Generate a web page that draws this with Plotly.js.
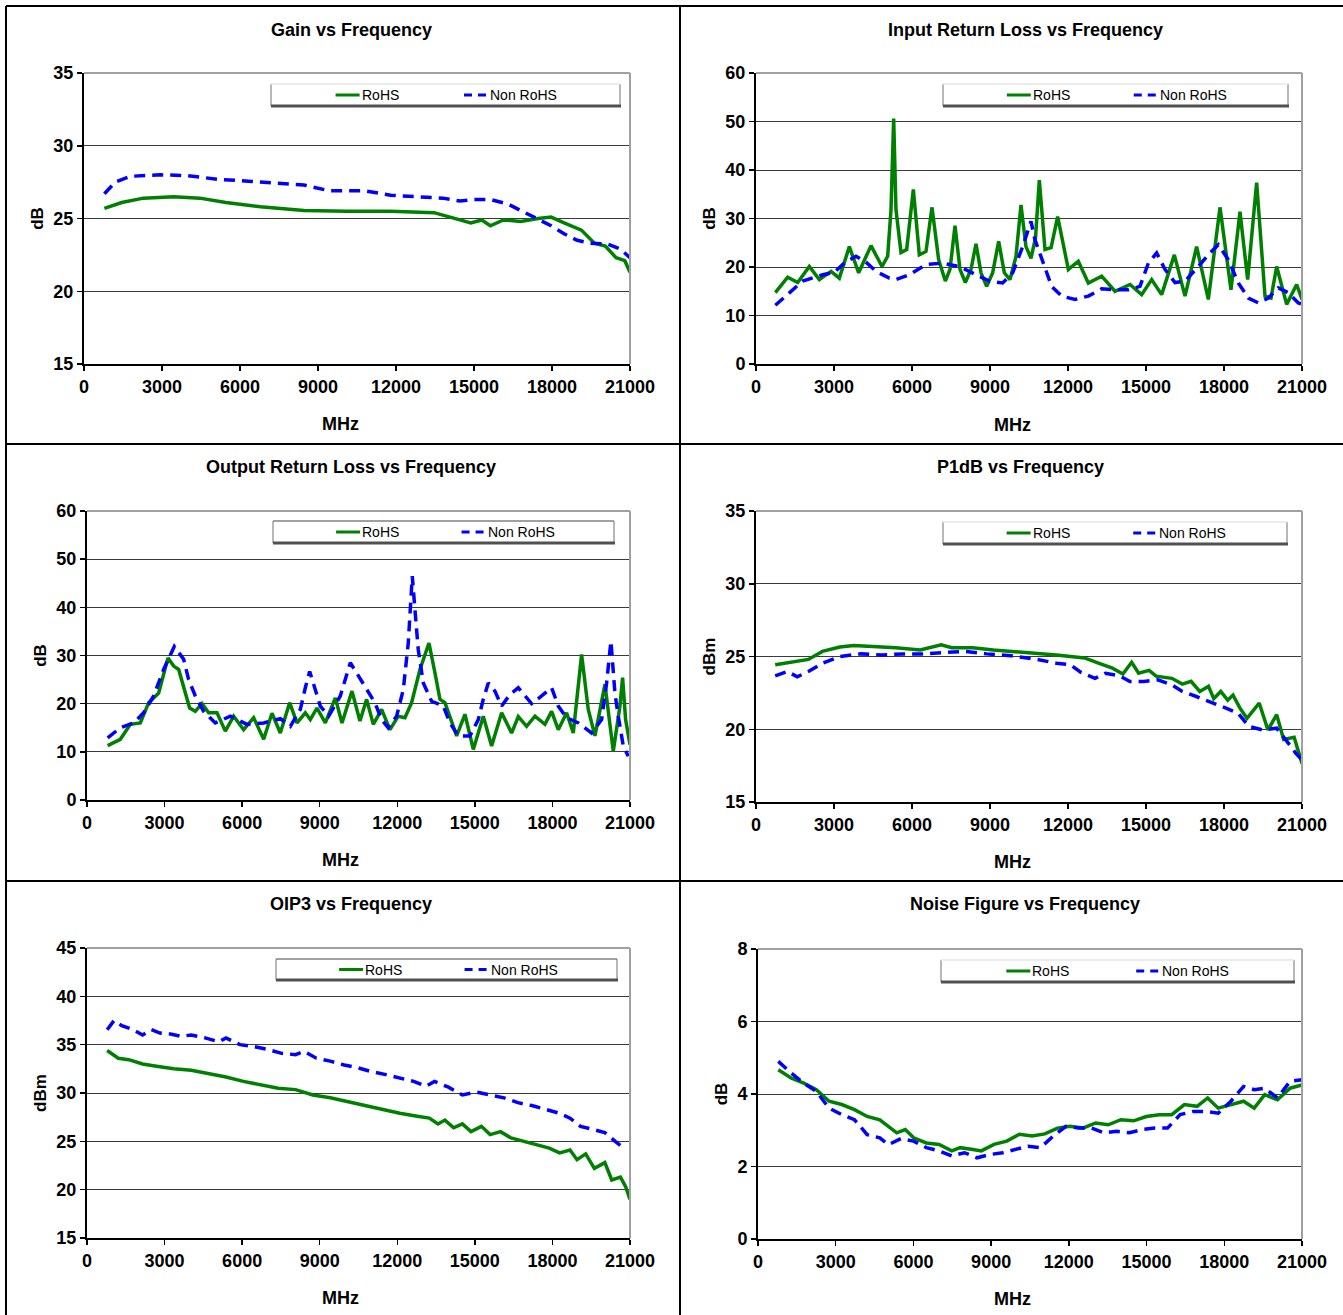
<!DOCTYPE html>
<html><head><meta charset="utf-8">
<script src="https://cdn.plot.ly/plotly-3.0.1.min.js"></script>
<style>html,body{margin:0;padding:0;background:#fff}#chart{width:1343px;height:1315px}</style>
</head><body><div id="chart"></div>
<script>
// ---------------- DATA ----------------
const seriesNames = ['RoHS', 'Non RoHS'];
const xTickLabels = ['0','3000','6000','9000','12000','15000','18000','21000'];
const xTitle = 'MHz';

// Gain vs Frequency (dB)
const gainFreqRoHS = [784,1451,2285,3453,4454,5455,6789,8457,10125,11793,13461,14295,14879,15296,15630,16130,16797,17464,17965,18465,19132,19633,20050,20467,20801,21000];
const gainRoHS     = [25.7,26.1,26.4,26.5,26.4,26.1,25.8,25.55,25.5,25.5,25.4,25.0,24.7,24.9,24.5,24.9,24.8,25.0,25.1,24.7,24.2,23.3,23.1,22.3,22.1,21.3];
const gainFreqNon  = [784,1201,1785,2952,3953,5121,6455,7456,8457,9458,10792,11793,12794,13795,14462,14962,15630,16297,16797,17298,17965,18465,18966,19466,20133,20634,21000];
const gainNon      = [26.7,27.5,27.9,28.0,27.95,27.7,27.55,27.45,27.3,26.9,26.9,26.6,26.5,26.4,26.2,26.3,26.3,26.0,25.55,25.1,24.5,23.95,23.5,23.3,23.25,22.9,22.3];

// Input Return Loss vs Frequency (dB)
const irlFreqRoHS = [744,1218,1603,2051,2436,2885,3205,3590,3949,4423,4846,5064,5192,5295,5384,5577,5795,6051,6282,6538,6769,7025,7282,7461,7654,7846,8051,8269,8461,8654,8872,9103,9333,9551,9769,10000,10192,10384,10577,10750,10897,11115,11350,11602,12013,12397,12782,13295,13808,14384,14833,15218,15602,16090,16500,16948,17397,17846,18269,18615,18910,19256,19577,19808,20026,20410,20795,21000];
const irlRoHS     = [14.7,17.9,16.8,20.1,17.4,19.1,17.7,24.2,18.8,24.4,20.1,22.2,31.8,50.6,31.8,23.0,23.6,36.0,22.5,23.2,32.3,21.5,17.1,19.5,28.5,19.5,16.8,19.5,24.8,18.8,16.0,18.8,25.3,18.8,17.4,22.2,32.8,24.2,21.8,26.0,37.9,23.6,24.0,30.4,19.5,21.2,16.7,18.1,15.0,16.4,14.3,17.4,14.3,22.5,14.0,24.2,13.3,32.3,15.3,31.4,17.4,37.4,14.0,13.6,20.1,12.3,16.4,13.3];
const irlFreqNon  = [744,1282,1795,2564,3013,3397,3846,4231,4615,5128,5384,5897,6538,7179,7820,8461,8974,9487,9871,10256,10577,10730,11051,11372,11756,12269,12782,13295,13808,14320,14769,15090,15410,15730,16115,16500,17013,17461,17782,18167,18551,18936,19320,19705,20090,20474,20859,21000];
const irlNon      = [12.1,14.7,17.1,18.4,18.9,20.8,22.2,21.0,19.1,17.7,17.4,18.4,20.5,20.8,20.1,18.4,17.1,16.7,18.8,24.2,29.4,25.6,20.8,16.0,14.0,13.3,14.0,15.5,15.3,15.3,16.0,20.8,22.9,19.5,16.8,17.1,20.1,22.9,24.6,21.5,16.7,13.6,12.6,13.6,15.7,14.7,12.6,12.3];

// Output Return Loss vs Frequency (dB)
const orlFreqRoHS = [799,1289,1676,2062,2385,2771,3132,3351,3545,3738,3970,4189,4447,4705,5027,5349,5672,6058,6445,6832,7154,7476,7837,8121,8443,8636,8894,9216,9603,9861,10248,10556,10814,11072,11394,11716,12039,12296,12554,12877,13225,13457,13650,13843,14037,14295,14617,14939,15326,15648,16035,16421,16679,17001,17324,17710,17968,18226,18548,18806,19128,19386,19644,20031,20353,20611,20714,20830,21000];
const orlRoHS     = [11.3,12.6,15.7,16.0,20.2,22.2,29.5,27.8,27.1,23.6,19.1,18.4,20.0,18.1,18.1,14.3,17.4,14.6,17.1,12.6,18.0,13.9,20.2,16.0,18.1,16.7,19.1,16.0,21.2,16.0,22.6,16.4,20.9,15.7,18.8,14.6,17.4,17.1,20.2,27.1,32.6,26.4,20.9,20.2,17.4,13.3,17.8,10.5,17.4,11.2,18.1,13.9,17.3,15.3,17.4,15.7,18.4,14.6,18.1,13.9,30.2,18.8,13.3,24.0,10.1,19.5,25.4,16.7,11.5];
const orlFreqNon  = [799,1289,1805,2191,2578,2964,3377,3738,3931,4189,4511,4962,5543,6187,6832,7476,7863,8250,8443,8611,8830,9023,9345,9796,10183,10505,10814,11136,11394,11652,11974,12232,12425,12580,12683,12812,13006,13328,13779,14037,14359,14810,15132,15326,15519,15777,16035,16357,16679,16937,17195,17582,17968,18226,18548,19000,19515,19902,20095,20263,20353,20417,20546,20740,20933];
const orlNon      = [12.9,15.0,16.0,18.1,21.6,27.1,31.9,29.2,25.0,21.6,18.4,16.0,17.4,15.7,16.0,16.9,15.3,18.8,23.3,26.7,22.9,19.5,17.4,21.6,28.5,25.7,22.9,20.2,16.7,15.0,17.4,22.9,32.6,46.5,39.5,31.2,24.3,20.5,19.5,16.0,13.3,13.3,16.7,20.9,24.3,22.6,19.5,21.9,23.3,21.6,20.0,21.6,23.3,19.5,17.1,16.0,13.9,16.7,24.3,33.0,27.1,22.2,17.4,11.2,9.1];

// P1dB vs Frequency (dBm)
const p1FreqRoHS = [739,1344,2016,2554,3226,3763,4570,5376,6317,7123,7526,8333,9139,9946,10752,11558,12096,12634,13171,13709,14112,14448,14717,15120,15389,15994,16397,16733,17069,17405,17606,17875,18144,18346,18614,18883,19354,19690,20026,20294,20698,21000];
const p1RoHS     = [24.43,24.6,24.8,25.35,25.65,25.75,25.7,25.6,25.45,25.8,25.6,25.6,25.45,25.35,25.2,25.1,25.0,24.9,24.55,24.2,23.8,24.6,23.85,24.05,23.65,23.5,23.1,23.3,22.6,22.95,22.1,22.6,22.0,22.35,21.45,20.75,21.8,19.95,21.0,19.3,19.45,17.65];
const p1FreqNon  = [739,1210,1586,2016,2554,3226,4032,4838,5645,6451,7258,8064,8870,9811,10752,11558,12096,12499,13037,13440,13978,14381,14918,15456,15994,16397,16934,17472,18010,18547,18950,19488,20026,20429,20765,21000];
const p1Non      = [23.67,23.97,23.6,23.97,24.54,25.0,25.18,25.1,25.18,25.18,25.28,25.34,25.18,25.05,24.82,24.54,24.43,23.9,23.5,23.85,23.67,23.28,23.28,23.4,23.05,22.6,22.25,21.9,21.5,21.1,20.2,19.95,20.07,19.15,18.35,17.9];

// OIP3 vs Frequency (dBm)
const oipFreqRoHS = [780,1210,1613,2150,2688,3360,4032,4704,5376,6048,6720,7392,8064,8736,9408,10080,10752,11424,12096,12768,13238,13574,13843,14179,14515,14851,15254,15590,15994,16397,16934,17472,17875,18278,18682,18950,19286,19622,20026,20294,20630,20832,21000];
const oipRoHS     = [34.4,33.6,33.45,33.0,32.76,32.5,32.35,32.0,31.65,31.2,30.86,30.5,30.35,29.8,29.5,29.1,28.7,28.35,27.9,27.6,27.4,26.8,27.2,26.4,26.8,26.0,26.55,25.7,26.0,25.35,25.0,24.65,24.3,23.8,24.1,23.1,23.7,22.2,22.8,21.0,21.3,20.3,19.0];
const oipFreqNon  = [780,1048,1344,1747,2150,2486,2822,3226,3629,4032,4570,5107,5376,5914,6451,6989,7526,8064,8400,8870,9408,9946,10483,11021,11558,12096,12634,13104,13440,13978,14515,15053,15590,16128,16666,17203,17741,18278,18682,19085,19622,20026,20429,20765];
const oipNon      = [36.55,37.5,36.97,36.6,36.0,36.55,36.2,36.1,35.86,36.0,35.7,35.3,35.7,35.0,34.8,34.5,34.1,33.97,34.3,33.6,33.3,32.9,32.6,32.2,31.9,31.55,31.2,30.7,31.2,30.6,29.8,30.1,29.8,29.5,29.0,28.7,28.3,27.9,27.4,26.55,26.2,25.9,25.0,24.3];

// Noise Figure vs Frequency (dB)
const nfFreqRoHS = [784,1274,1764,2253,2743,3233,3723,4213,4703,5029,5356,5683,6009,6499,6989,7479,7806,8295,8622,9112,9602,10091,10581,11071,11561,12051,12541,13031,13521,14010,14500,14990,15480,15970,16460,16949,17358,17766,18256,18746,19154,19562,20052,20542,21000];
const nfRoHS     = [4.67,4.44,4.3,4.12,3.8,3.71,3.57,3.38,3.29,3.11,2.93,3.02,2.79,2.65,2.61,2.43,2.52,2.47,2.43,2.61,2.7,2.89,2.84,2.9,3.06,3.11,3.06,3.2,3.15,3.29,3.26,3.38,3.43,3.43,3.71,3.66,3.89,3.61,3.71,3.8,3.61,3.98,3.84,4.16,4.25];
const nfFreqNon  = [784,1274,1764,2253,2743,3233,3723,4213,4703,5029,5519,6009,6499,6989,7479,7969,8459,8949,9439,9929,10418,10908,11398,11888,12378,12868,13358,13847,14337,14827,15317,15807,16297,16787,17276,17766,18256,18746,19154,19562,20052,20542,21000];
const nfNon      = [4.9,4.58,4.3,4.07,3.61,3.43,3.29,2.88,2.79,2.6,2.77,2.7,2.52,2.43,2.29,2.38,2.24,2.33,2.38,2.47,2.56,2.52,2.84,3.11,3.06,3.06,2.93,2.97,2.93,3.02,3.06,3.06,3.43,3.52,3.52,3.47,3.8,4.21,4.12,4.16,3.89,4.35,4.39];

// ---------------- LAYOUT ----------------
const W = 1343, H = 1315;
const px = x => x / W;
const py = y => 1 - y / H;
const GREEN = '#008000', BLUE = '#0000ff';
const FONT = 'Liberation Sans, Arial, sans-serif';

const panels = [
  {title:'Gain vs Frequency', tx:351, ty:30, mx:340, my:424, box:[84,630,73,364], yr:[15,35], dt:5, ylab:'dB', leg:[271,620,84,106], legTop:false,
   r:[gainFreqRoHS,gainRoHS], n:[gainFreqNon,gainNon]},
  {title:'Input Return Loss vs Frequency', tx:1025, ty:30, mx:1012, my:425, box:[756,1302,73,364], yr:[0,60], dt:10, ylab:'dB', leg:[943,1288,84,106], legTop:false,
   r:[irlFreqRoHS,irlRoHS], n:[irlFreqNon,irlNon]},
  {title:'Output Return Loss vs Frequency', tx:351, ty:467, mx:341, my:860, box:[87,630,511,800], yr:[0,60], dt:10, ylab:'dB', leg:[273,614,521,543], legTop:true,
   r:[orlFreqRoHS,orlRoHS], n:[orlFreqNon,orlNon]},
  {title:'P1dB vs Frequency', tx:1020, ty:467, mx:1012, my:862, box:[756,1302,511,802], yr:[15,35], dt:5, ylab:'dBm', leg:[943,1287,522,544], legTop:false,
   r:[p1FreqRoHS,p1RoHS], n:[p1FreqNon,p1Non]},
  {title:'OIP3 vs Frequency', tx:351, ty:904, mx:341, my:1298, box:[87,630,948,1238], yr:[15,45], dt:5, ylab:'dBm', leg:[276,617,959,980], legTop:true,
   r:[oipFreqRoHS,oipRoHS], n:[oipFreqNon,oipNon]},
  {title:'Noise Figure vs Frequency', tx:1025, ty:904, mx:1012, my:1299, box:[758,1302,949,1239], yr:[0,8], dt:2, ylab:'dB', leg:[941,1294,960,982], legTop:false,
   r:[nfFreqRoHS,nfRoHS], n:[nfFreqNon,nfNon]}
];

const data = [];
const layout = {
  width: W, height: H, margin:{l:0,r:0,t:0,b:0},
  paper_bgcolor:'#fff', plot_bgcolor:'#fff', showlegend:false,
  font:{family:FONT, color:'#000'},
  shapes:[], annotations:[]
};

const tickFont = {family:FONT, size:18, weight:'bold', color:'#000'};
const titleFont = {family:FONT, size:18, weight:'bold', color:'#000'};
const legFont = {family:FONT, size:14, color:'#000'};

panels.forEach((p, i) => {
  const k = i === 0 ? '' : String(i + 1);
  const xa = 'x' + k, ya = 'y' + k;
  data.push({type:'scatter', mode:'lines', name:seriesNames[0], x:p.r[0], y:p.r[1], xaxis:xa, yaxis:ya,
             line:{color:GREEN, width:3.5}});
  data.push({type:'scatter', mode:'lines', name:seriesNames[1], x:p.n[0], y:p.n[1], xaxis:xa, yaxis:ya,
             line:{color:BLUE, width:3.5, dash:'11px,7px'}});
  const [bx0,bx1,by0,by1] = p.box;
  layout['xaxis' + k] = {
    domain:[px(bx0), px(bx1)], anchor:ya, range:[0,21000], tickvals:xTickLabels.map(Number), ticktext:xTickLabels,
    showgrid:false, zeroline:false, showline:true, linecolor:'#000', linewidth:2,
    ticks:'outside', ticklen:5, tickwidth:1.5, tickcolor:'#000', tickfont:tickFont, fixedrange:true
  };
  layout['yaxis' + k] = {
    domain:[py(by1), py(by0)], anchor:xa, range:p.yr, dtick:p.dt, tick0:0,
    showgrid:true, gridcolor:'#3a3a3a', gridwidth:1, zeroline:false, showline:true, linecolor:'#000', linewidth:2,
    ticks:'outside', ticklen:5, tickwidth:1.5, tickcolor:'#000', tickfont:tickFont,
    title:{text:p.ylab, font:{family:FONT, size:17, weight:'bold', color:'#000'}, standoff:5}, fixedrange:true
  };
  // plot-area top and right border (grey)
  layout.shapes.push({type:'line', xref:xa+' domain', yref:ya+' domain', x0:0, x1:1, y0:1, y1:1, line:{color:'#a0a0a0', width:2}, layer:'above'});
  layout.shapes.push({type:'line', xref:xa+' domain', yref:ya+' domain', x0:1, x1:1, y0:0, y1:1, line:{color:'#a0a0a0', width:2}, layer:'above'});
  // subplot title and x-axis title
  layout.annotations.push({xref:'paper', yref:'paper', x:px(p.tx), y:py(p.ty), text:p.title, showarrow:false,
                           xanchor:'center', yanchor:'middle', font:titleFont});
  layout.annotations.push({xref:'paper', yref:'paper', x:px(p.mx), y:py(p.my), text:xTitle, showarrow:false,
                           xanchor:'center', yanchor:'middle', font:titleFont});
  // legend box
  const [lx0,lx1,ly0,ly1] = p.leg;
  layout.shapes.push({type:'rect', xref:'paper', yref:'paper', x0:px(lx0), x1:px(lx1), y0:py(ly1), y1:py(ly0),
                      line:{width:0}, fillcolor:'#fff', layer:'above'});
  layout.shapes.push({type:'line', xref:'paper', yref:'paper', x0:px(lx0), x1:px(lx0), y0:py(ly1), y1:py(ly0),
                      line:{color:'#a0a0a0', width:1.5}, layer:'above'});
  layout.shapes.push({type:'line', xref:'paper', yref:'paper', x0:px(lx1), x1:px(lx1), y0:py(ly1), y1:py(ly0),
                      line:{color:'#a0a0a0', width:1.5}, layer:'above'});
  layout.shapes.push({type:'line', xref:'paper', yref:'paper', x0:px(lx0), x1:px(lx1), y0:py(ly0), y1:py(ly0),
                      line:{color:p.legTop ? '#808080' : '#e6e6e6', width:1.5}, layer:'above'});
  layout.shapes.push({type:'line', xref:'paper', yref:'paper', x0:px(lx0), x1:px(lx1+1), y0:py(ly1), y1:py(ly1),
                      line:{color:'#505050', width:3}, layer:'above'});
  const lw = lx1 - lx0, ym = (ly0 + ly1) / 2;
  const s1 = lx0 + 0.185 * lw, s2 = lx0 + 0.553 * lw;
  layout.shapes.push({type:'line', xref:'paper', yref:'paper', x0:px(s1), x1:px(s1+24), y0:py(ym), y1:py(ym),
                      line:{color:GREEN, width:3}, layer:'above'});
  layout.shapes.push({type:'line', xref:'paper', yref:'paper', x0:px(s2), x1:px(s2+24), y0:py(ym), y1:py(ym),
                      line:{color:BLUE, width:3, dash:'8px,6px'}, layer:'above'});
  layout.annotations.push({xref:'paper', yref:'paper', x:px(s1+24), y:py(ym), text:seriesNames[0], showarrow:false,
                           xanchor:'left', yanchor:'middle', font:legFont});
  layout.annotations.push({xref:'paper', yref:'paper', x:px(s2+24), y:py(ym), text:seriesNames[1], showarrow:false,
                           xanchor:'left', yanchor:'middle', font:legFont});
});

// panel frame lines
const frame = [[6,6,1343,6],[6,6,6,1315],[680,6,680,1315],[6,444,1343,444],[6,881,1343,881]];
frame.forEach(f => layout.shapes.push({type:'line', xref:'paper', yref:'paper', x0:px(f[0]), y0:py(f[1]), x1:px(f[2]), y1:py(f[3]),
                                       line:{color:'#000', width:2}, layer:'above'}));

Plotly.newPlot('chart', data, layout, {displayModeBar:false, staticPlot:true});
</script>
</body></html>
